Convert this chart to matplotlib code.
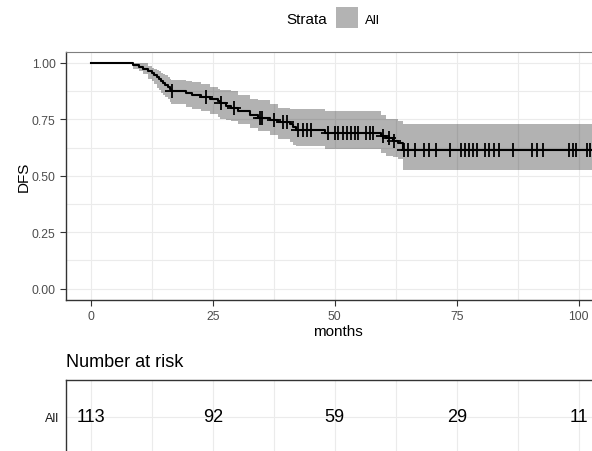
import numpy as np
import matplotlib
matplotlib.use('Agg')
import matplotlib.pyplot as plt

plt.rcParams['font.family'] = ['Liberation Sans', 'DejaVu Sans']

# Kaplan-Meier step data (months, survival, CI)
event_times = [0, 8.7, 9.8, 10.8, 11.8, 12.5, 13.0, 13.6, 14.0, 14.4, 14.8, 15.3, 15.8, 16.2, 16.4,
               19.6, 20.7, 22.5, 24.4, 26.0, 26.5, 27.8, 28.8, 30.2, 32.6, 34.3, 36.7, 38.4,
               40.8, 41.5, 42.0, 48.0, 59.5, 60.5, 61.9, 63.0, 63.9, 107.0]
surv = [1.0, 0.991, 0.982, 0.973, 0.965, 0.956, 0.947, 0.938, 0.929, 0.920, 0.912, 0.903, 0.894, 0.885, 0.876,
        0.867, 0.858, 0.849, 0.840, 0.830, 0.821, 0.811, 0.801, 0.787, 0.768, 0.758, 0.749, 0.740,
        0.728, 0.716, 0.703, 0.690, 0.678, 0.667, 0.655, 0.644, 0.616, 0.616]
lower = [1.0, 0.973, 0.965, 0.950, 0.930, 0.920, 0.905, 0.890, 0.880, 0.865, 0.858, 0.850, 0.840, 0.825, 0.818,
         0.805, 0.795, 0.789, 0.775, 0.760, 0.752, 0.748, 0.744, 0.730, 0.712, 0.700, 0.680, 0.665,
         0.650, 0.638, 0.633, 0.619, 0.600, 0.589, 0.585, 0.575, 0.527, 0.527]
upper = [1.0, 1.0, 1.0, 1.0, 0.985, 0.980, 0.975, 0.970, 0.965, 0.955, 0.950, 0.945, 0.940, 0.930, 0.925,
         0.920, 0.915, 0.905, 0.895, 0.885, 0.880, 0.880, 0.877, 0.860, 0.840, 0.835, 0.820, 0.800,
         0.798, 0.796, 0.796, 0.789, 0.770, 0.752, 0.750, 0.745, 0.730, 0.730]

censor_times = [16.6, 23.6, 26.8, 29.4, 34.7, 35.2, 37.6, 39.5, 40.3, 42.5, 43.4, 44.3, 45.1,
                48.7, 50.1, 50.7, 51.6, 52.5, 53.3, 54.2, 54.8, 56.5, 57.2, 57.9, 59.8, 61.2, 62.2,
                64.2, 65.0, 66.4, 68.2, 69.4, 70.7, 73.7, 75.8, 76.6, 77.5, 78.4, 79.2, 80.8, 81.7,
                82.6, 83.6, 86.6, 90.4, 91.4, 92.6, 97.9, 98.8, 99.5, 101.7, 102.4]

risk_times = [0, 25, 50, 75, 100]
risk_counts = [113, 92, 59, 29, 11]

x_ticks = [0, 25, 50, 75, 100]
y_ticks = [0.0, 0.25, 0.5, 0.75, 1.0]
y_ticklabels = ['0.00', '0.25', '0.50', '0.75', '1.00']

xlim = (-5.06, 106.3)
W, H = 592, 452

fig = plt.figure(figsize=(W / 100, H / 100), dpi=100)

# main survival panel
ax = fig.add_axes([66 / W, 1 - 301 / H, (609.5 - 66) / W, (301 - 52.7) / H])
ax.set_xlim(*xlim)
ax.set_ylim(-0.05, 1.05)

ax.set_xticks(x_ticks)
ax.set_xticks([12.5, 37.5, 62.5, 87.5], minor=True)
ax.set_yticks(y_ticks)
ax.set_yticklabels(y_ticklabels)
ax.set_yticks([0.125, 0.375, 0.625, 0.875], minor=True)
ax.grid(True, which='both', color='#ebebeb', lw=0.8)
ax.set_axisbelow(True)
ax.tick_params(which='minor', length=0)
ax.tick_params(which='major', length=4, width=0.8, color='#333333', labelsize=8.8, labelcolor='#4d4d4d')

for side in ['left', 'bottom']:
    ax.spines[side].set_color('#333333')
    ax.spines[side].set_linewidth(1.0)
ax.spines['top'].set_color('#7f7f7f')
ax.spines['top'].set_linewidth(0.8)
ax.spines['right'].set_visible(False)

ax.fill_between(event_times, lower, upper, step='post', color='black', alpha=0.3, lw=0)
ax.step(event_times, surv, where='post', color='black', lw=1.5)

idx = np.searchsorted(event_times, censor_times, side='right') - 1
censor_surv = np.array(surv)[idx]
ax.plot(censor_times, censor_surv, ls='none', marker='+', ms=10, mew=1.3, color='black')

ax.set_xlabel('months', fontsize=11, color='black', labelpad=1)
ax.set_ylabel('DFS', fontsize=11, color='black')
ax.yaxis.set_label_coords((31 - 66) / 543.5, 0.5)

# legend
fig.text(327 / W, 1 - 20.5 / H, 'Strata', fontsize=11, ha='right', va='center')
fig.patches.append(plt.Rectangle((336 / W, 1 - 29 / H), 21.5 / W, 21.5 / H,
                                 transform=fig.transFigure, color='#b3b3b3', lw=0))
fig.text(365 / W, 1 - 20.5 / H, 'All', fontsize=9.5, ha='left', va='center')

# risk table
rt = fig.add_axes([66 / W, 1 - 455 / H, (609.5 - 66) / W, 74 / H])
rt.set_xlim(*xlim)
rt.set_ylim(0, 1)
rt.set_xticks(x_ticks)
rt.set_xticks([12.5, 37.5, 62.5, 87.5], minor=True)
rt.set_yticks([0.5])
rt.set_yticklabels(['All'])
rt.grid(True, which='both', color='#ebebeb', lw=0.8)
rt.set_axisbelow(True)
rt.tick_params(which='both', length=0)
rt.tick_params(axis='y', labelsize=9, labelcolor='#1a1a1a', pad=5)
rt.tick_params(axis='x', labelbottom=False)
for side in ['left', 'top']:
    rt.spines[side].set_color('#333333')
    rt.spines[side].set_linewidth(1.0)
rt.spines['right'].set_visible(False)
rt.spines['bottom'].set_visible(False)
for t, n in zip(risk_times, risk_counts):
    rt.text(t, 0.5, str(n), ha='center', va='center', fontsize=13)

fig.text(66 / W, 1 - 363 / H, 'Number at risk', fontsize=13, ha='left', va='center')

fig.savefig('out.png', dpi=100)
